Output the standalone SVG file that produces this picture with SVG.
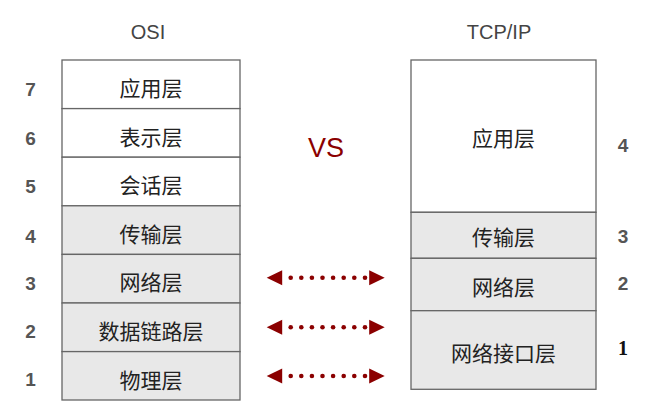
<svg xmlns="http://www.w3.org/2000/svg" width="669" height="415" viewBox="0 0 669 415">
<defs>
<style>
.cell{stroke:#666;stroke-width:1.3}
.w{fill:#fff}
.g{fill:#e8e8e8}
.lbl{font-family:"Liberation Sans","Noto Sans CJK SC",sans-serif;font-size:21px;fill:#222;text-anchor:middle}
.num{font-family:"Liberation Sans",sans-serif;font-size:19px;font-weight:bold;fill:#555;text-anchor:middle}
.head{font-family:"Liberation Sans",sans-serif;font-size:20px;fill:#444;text-anchor:middle}
.vs{font-family:"Liberation Sans",sans-serif;font-size:27px;fill:#8b0000;text-anchor:middle}
.dot{fill:#8b0000}
</style>
<g id="arrowShape">
<polygon points="0,0 15.5,-7.5 15.5,7.5" fill="#8b0000"/>
<polygon points="118,0 102.5,-7.5 102.5,7.5" fill="#8b0000"/>
<circle class="dot" cx="24" cy="0" r="2.3"/>
<circle class="dot" cx="34.6" cy="0" r="2.3"/>
<circle class="dot" cx="45.2" cy="0" r="2.3"/>
<circle class="dot" cx="55.8" cy="0" r="2.3"/>
<circle class="dot" cx="66.4" cy="0" r="2.3"/>
<circle class="dot" cx="77" cy="0" r="2.3"/>
<circle class="dot" cx="87.6" cy="0" r="2.3"/>
<circle class="dot" cx="98.3" cy="0" r="2.3"/>
</g>
</defs>
<rect width="669" height="415" fill="#fff"/>
<text class="head" x="148" y="38.5">OSI</text>
<text class="head" x="499" y="38.5">TCP/IP</text>
<text class="vs" x="326" y="157">VS</text>

<g id="osi">
<g id="osi7"><rect class="cell w" x="62" y="60" width="178" height="48.6"/><text class="lbl" x="151" y="96">应用层</text><text class="num" x="30.5" y="95.5">7</text></g>
<g id="osi6"><rect class="cell w" x="62" y="108.6" width="178" height="48.6"/><text class="lbl" x="151" y="144.7">表示层</text><text class="num" x="30.5" y="145">6</text></g>
<g id="osi5"><rect class="cell w" x="62" y="157.2" width="178" height="48.6"/><text class="lbl" x="151" y="193.2">会话层</text><text class="num" x="30.5" y="192.5">5</text></g>
<g id="osi4"><rect class="cell g" x="62" y="205.8" width="178" height="48.6"/><text class="lbl" x="151" y="241.8">传输层</text><text class="num" x="30.5" y="242.5">4</text></g>
<g id="osi3"><rect class="cell g" x="62" y="254.4" width="178" height="48.6"/><text class="lbl" x="151" y="290.4">网络层</text><text class="num" x="30.5" y="290">3</text></g>
<g id="osi2"><rect class="cell g" x="62" y="303" width="178" height="48.6"/><text class="lbl" x="151" y="338.9">数据链路层</text><text class="num" x="30.5" y="338">2</text></g>
<g id="osi1"><rect class="cell g" x="62" y="351.6" width="178" height="48.4"/><text class="lbl" x="151" y="387.5">物理层</text><text class="num" x="30.5" y="386">1</text></g>
</g>

<g id="tcpip">
<g id="tcp4"><rect class="cell w" x="411" y="60" width="185" height="152.3"/><text class="lbl" x="503.5" y="146">应用层</text><text class="num" x="623" y="151.5">4</text></g>
<g id="tcp3"><rect class="cell g" x="411" y="212.3" width="185" height="46"/><text class="lbl" x="503.5" y="245">传输层</text><text class="num" x="623" y="242.5">3</text></g>
<g id="tcp2"><rect class="cell g" x="411" y="258.3" width="185" height="52.4"/><text class="lbl" x="503.5" y="294.5">网络层</text><text class="num" x="623" y="289.5">2</text></g>
<g id="tcp1"><rect class="cell g" x="411" y="310.7" width="185" height="78.6"/><text class="lbl" x="503.5" y="360.5">网络接口层</text><text x="623" y="355" text-anchor="middle" font-family="Liberation Serif, serif" font-weight="bold" font-size="20" fill="#111">1</text></g>
</g>

<g id="connectors">
<use href="#arrowShape" x="266.7" y="277.7"/>
<use href="#arrowShape" x="266.7" y="327.3"/>
<use href="#arrowShape" x="266.7" y="376"/>
</g>
</svg>
